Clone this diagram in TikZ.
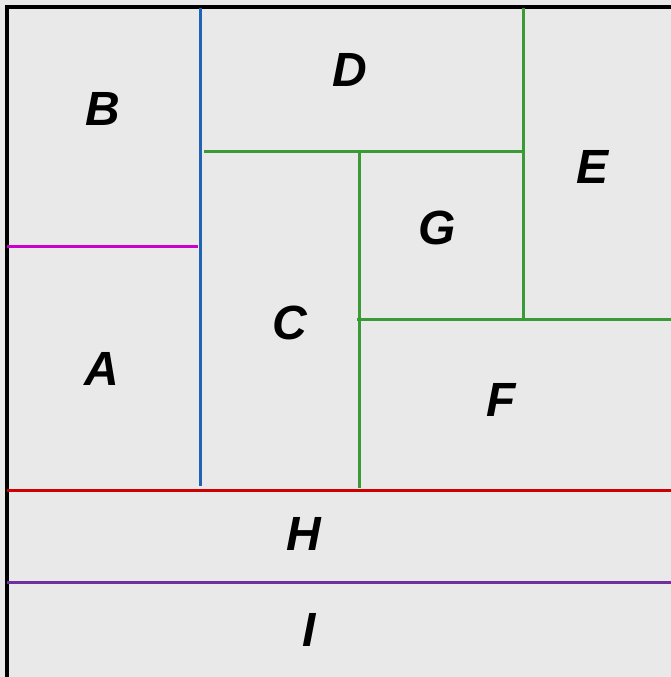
\documentclass[tikz,border=0pt]{standalone}
\usepackage{fontspec}
\setmainfont{Liberation Sans}
\usepackage{tikz}
\usetikzlibrary{calc, positioning}

\definecolor{bggray}{HTML}{E9E9E9}
\definecolor{lblue}{HTML}{1F63B5}
\definecolor{lmagenta}{HTML}{CC00CC}
\definecolor{lgreen}{HTML}{3A9A35}
\definecolor{lred}{HTML}{CC0000}
\definecolor{lpurple}{HTML}{7030A0}

\tikzset{
    region/.style={font=\fontsize{48}{48}\selectfont\bfseries\itshape, inner sep=0pt},
    cut/.style={line width=3pt}
}

\begin{document}
\begin{tikzpicture}[x=1pt, y=-1pt]
    % Nền và khung
    \fill[bggray] (0,0) rectangle (671,677);
    \useasboundingbox (0,0) rectangle (671,677);
    \draw[line width=4pt] (7,677) -- (7,7) -- (671,7);

    % Các đường chia
    \draw[cut, lblue] (200,8) -- (200,486);
    \draw[cut, lmagenta] (7,246) -- (198,246);
    \draw[cut, lgreen] (204,151) -- (523,151);
    \draw[cut, lgreen] (359,151) -- (359,488);
    \draw[cut, lgreen] (523,8) -- (523,319);
    \draw[cut, lgreen] (357,319) -- (671,319);
    \draw[cut, lred] (7,490) -- (671,490);
    \draw[cut, lpurple] (7,582) -- (671,582);

    % Tên các miền
    \node[region] (B) at (103,109) {B};
    \node[region] (D) at (350,70) {D};
    \node[region] (E) at (592,167) {E};
    \node[region] (G) at (437,228) {G};
    \node[region] (C) at (290,323) {C};
    \node[region] (A) at (102,369) {A};
    \node[region] (F) at (501,400) {F};
    \node[region] (H) at (304,534) {H};
    \node[region] (I) at (309,630) {I};
\end{tikzpicture}
\end{document}
